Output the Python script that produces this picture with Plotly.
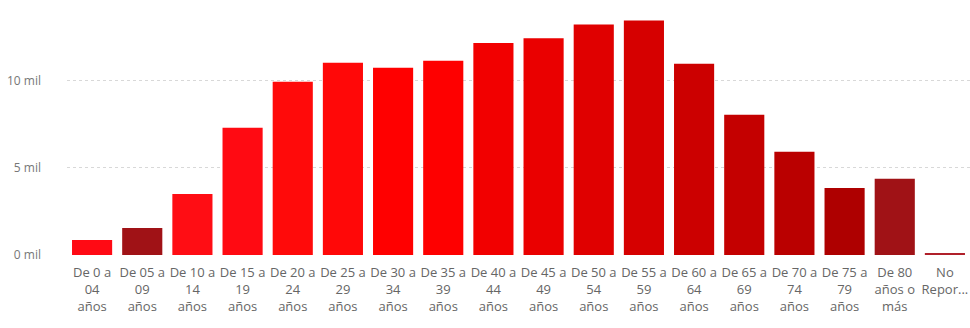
import plotly.graph_objects as go

categories = ["De 0 a<br>04<br>años", "De 05 a<br>09<br>años", "De 10 a<br>14<br>años", "De 15 a<br>19<br>años",
              "De 20 a<br>24<br>años", "De 25 a<br>29<br>años", "De 30 a<br>34<br>años", "De 35 a<br>39<br>años",
              "De 40 a<br>44<br>años", "De 45 a<br>49<br>años", "De 50 a<br>54<br>años", "De 55 a<br>59<br>años",
              "De 60 a<br>64<br>años", "De 65 a<br>69<br>años", "De 70 a<br>74<br>años", "De 75 a<br>79<br>años",
              "De 80<br>años o<br>más", "No<br>Repor..."]
values = [860, 1550, 3500, 7300, 9940, 11030, 10750, 11150, 12160, 12440, 13220, 13450,
          10980, 8050, 5920, 3850, 4370, 60]
bar_colors = ["#FF0A14", "#A01216", "#FF0D14", "#FF0A12", "#FF0A0A", "#FF0808", "#FF0000", "#FE0000",
              "#F20000", "#EA0000", "#E00000", "#D60000", "#CC0000", "#C40000", "#BA0000", "#AE0000",
              "#A01216", "#B0202A"]
tick_vals = [0, 5000, 10000]
tick_text = ["0 mil", "5 mil", "10 mil"]

fig = go.Figure(go.Bar(x=list(range(len(categories))), y=values, marker_color=bar_colors,
                       marker_line_width=0))
fig.update_layout(
    width=970, height=328, margin=dict(l=67, r=0, t=11, b=73),
    plot_bgcolor="white", paper_bgcolor="white", bargap=0.2, showlegend=False,
    font=dict(family="Open Sans, Segoe UI, sans-serif", size=12, color="#666666"),
)
fig.update_xaxes(tickmode="array", tickvals=list(range(len(categories))), ticktext=categories,
                 range=[-0.5, len(categories) - 0.5], showgrid=False, showline=False, ticks="",
                 tickfont=dict(size=13, color="#666666"), tickangle=0, ticklabelstandoff=8)
fig.update_yaxes(range=[0, 14000], tickvals=tick_vals, ticktext=tick_text, showgrid=True,
                 gridcolor="#d8d8d8", griddash="dot", gridwidth=1, zeroline=False, showline=False,
                 ticks="", ticklabelstandoff=25, tickfont=dict(size=12, color="#777777"))
fig.write_html("out.html")
